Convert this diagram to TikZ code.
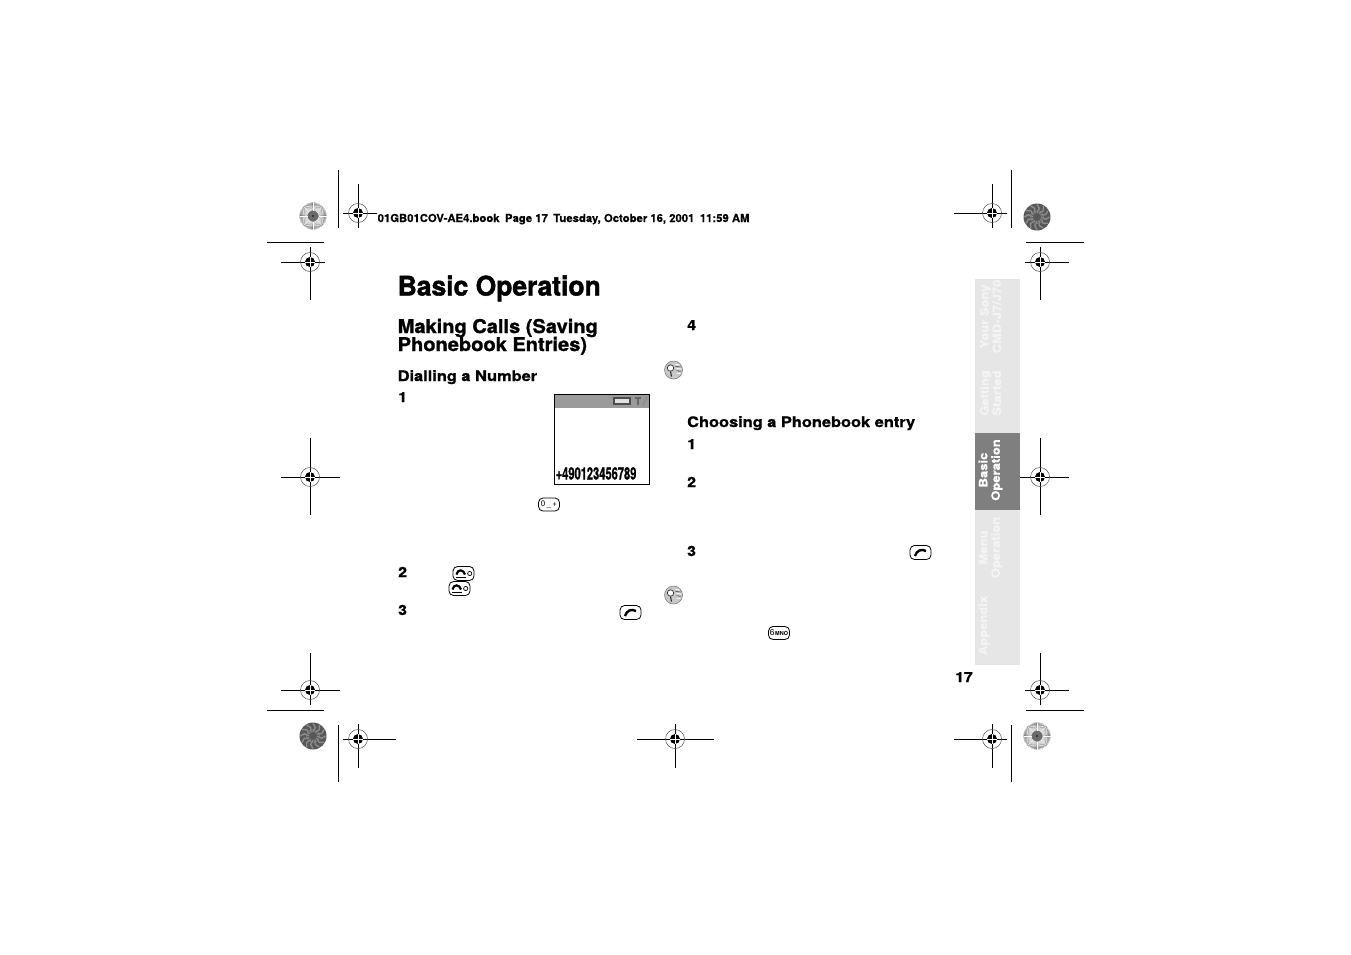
\documentclass[tikz,border=0pt]{standalone}
\usepackage{fontspec}
\setmainfont{TeX Gyre Heros}
\newfontfamily\blkT{TeX Gyre Heros}[BoldFeatures={FakeBold=1.6,FakeStretch=0.98}]
\newfontfamily\blkH{TeX Gyre Heros}[BoldFeatures={FakeBold=1.2,FakeStretch=1.055}]
\newfontfamily\blkS{TeX Gyre Heros}[BoldFeatures={FakeBold=1.0,FakeStretch=1.13}]
\newfontfamily\blkL{TeX Gyre Heros}[BoldFeatures={FakeBold=0.3,FakeStretch=1.028}]
\usetikzlibrary{calc}
\definecolor{tabgrey}{HTML}{E6E6E6}
\definecolor{tabdark}{HTML}{7F7F7F}
\definecolor{tabtext}{HTML}{F4F4F4}
\definecolor{band}{HTML}{9A9A9A}
\tikzset{
  x=1pt,y=-1pt,
  cropline/.style={line width=1pt,black},
  txt/.style={inner sep=0pt,anchor=base west,black},
  headA/.style={txt,font=\fontsize{27}{27}\selectfont\blkT\bfseries},
  headB/.style={txt,font=\fontsize{19}{19}\selectfont\blkH\bfseries},
  headC/.style={txt,font=\fontsize{14.5}{15}\selectfont\blkS\bfseries},
  numlab/.style={txt,font=\fontsize{14}{14}\selectfont\blkS\bfseries},
  tabtxt/.style={inner sep=0pt,rotate=90,align=center,text=tabtext,font=\fontsize{11.5}{12.5}\selectfont\blkS\bfseries},
  keybox/.style={draw=black,line width=0.8pt,rounded corners=4.5pt,fill=white},
}
\newcommand{\regmark}[6]{%
  \draw[cropline] (#1-#3,#2) -- (#1+#4,#2);
  \draw[cropline] (#1,#2-#5) -- (#1,#2+#6);
  \draw[line width=0.5pt,black!70] (#1,#2) circle[radius=9.5];
  \fill[black] (#1,#2) circle[radius=5];
  \draw[white,line width=0.7pt] (#1-5,#2) -- (#1+5,#2) (#1,#2-5) -- (#1,#2+5);
}
\newcommand{\stardisc}[2]{% fine radial disc
  \fill[black!58] (#1,#2) circle[radius=13.5];
  \foreach \a in {0,5,...,359} {\draw[white,line width=0.42pt] ($(#1,#2)+(\a:5.5)$) -- ($(#1,#2)+(\a:13.5)$);}
  \fill[black!85] (#1,#2) circle[radius=1.2];
}
\newcommand{\mottled}[2]{% dark mottled disc
  \fill[black!66] (#1,#2) circle[radius=13.5];
  \foreach \a in {0,30,...,359} {\draw[black!45,line width=1.4pt] ($(#1,#2)+(\a:4)$) -- ($(#1,#2)+(\a+15:9)$) -- ($(#1,#2)+(\a:12.5)$);}
  \draw[black!50,line width=0.7pt] (#1,#2) circle[radius=6.5];
}
\newcommand{\hangkey}[2]{%
  \node[keybox,minimum width=21,minimum height=14,inner sep=0pt] at (#1,#2) {};
  \draw[line width=2.2pt,black] (#1-7,#2+1) .. controls (#1-6,#2-4.5) and (#1,#2-4.5) .. (#1+1.5,#2+1);
  \draw[line width=1pt,black] (#1-7.5,#2+3.8) -- (#1+2,#2+3.8);
  \draw[line width=0.7pt,black] (#1+6.2,#2) circle[radius=2.1];
}
\newcommand{\callkey}[2]{%
  \node[keybox,minimum width=21,minimum height=14,inner sep=0pt] at (#1,#2) {};
  \draw[line width=2.4pt,black] (#1-5.5,#2+3.5) .. controls (#1-4,#2-2) and (#1+1,#2-4) .. (#1+5.5,#2-1.5);
}
\newcommand{\tipicon}[2]{%
  \fill[black!22] (#1,#2) circle[radius=9];
  \draw[black!55,line width=0.5pt] (#1,#2) circle[radius=9];
  \fill[white] (#1-3,#2-2) circle[radius=3.2];
  \draw[black!80,line width=0.7pt] (#1-3,#2-2) circle[radius=3.2];
  \draw[black!85,line width=1pt] (#1-3,#2+1.5) -- (#1-2,#2+6.5);
  \draw[white,line width=0.9pt] (#1+2,#2-5.5) -- (#1+6,#2-5) (#1+3,#2-1.5) -- (#1+8,#2-1) (#1+3,#2+3) -- (#1+7,#2+3.5);
  \draw[black!80,line width=0.6pt] (#1+2,#2-3.5) -- (#1+7,#2-3) (#1+3,#2+0.8) -- (#1+7.5,#2+1.2);
}
\begin{document}
\begin{tikzpicture}
\useasboundingbox (0,0) rectangle (1351,954);
\fill[white] (0,0) rectangle (1351,954);

\draw[cropline] (338,170) -- (338,228);
\draw[cropline] (1011,170) -- (1011,228);
\draw[cropline] (338,725) -- (338,782);
\draw[cropline] (1011,725) -- (1011,782);
\draw[cropline] (267,242) -- (324,242);
\draw[cropline] (1026,242) -- (1084,242);
\draw[cropline] (267,710) -- (324,710);
\draw[cropline] (1026,710) -- (1084,710);

\regmark{358}{213}{15}{19}{29}{15}
\regmark{992}{213}{38}{15}{29}{15}
\regmark{310}{262}{29}{15}{15}{38}
\regmark{1040}{262}{15}{29}{15}{38}
\regmark{310}{477}{29}{30}{39}{38}
\regmark{1040}{477}{29}{29}{39}{38}
\regmark{310}{690}{29}{30}{37}{15}
\regmark{1040}{690}{15}{29}{37}{15}
\regmark{358}{739}{15}{38}{15}{29}
\regmark{675}{739}{38}{39}{15}{29}
\regmark{992}{739}{38}{15}{15}{29}

\stardisc{313}{216}
\mottled{1037}{217}
\mottled{313}{736}
\stardisc{1037}{736}

\node[txt,font=\fontsize{11}{11}\selectfont\blkL\bfseries] (slug) at (377.5,222) {01GB01COV-AE4.book\hspace{5.5pt}Page 17\hspace{5.5pt}Tuesday, October 16, 2001\hspace{5.5pt}11:59 AM};

\node[headA] (title) at (397.5,295.5) {Basic Operation};
\node[headB] (h1a) at (397.5,333) {Making Calls (Saving};
\node[headB] (h1b) at (397.5,351) {Phonebook Entries)};
\node[headC] (h2a) at (397.5,381) {Dialling a Number};
\node[headC] (h2b) at (687,427) {Choosing a Phonebook entry};

\node[numlab] (l1) at (398,402) {1};
\node[numlab] (l2) at (398,577) {2};
\node[numlab] (l3) at (398,615) {3};
\node[numlab] (r4) at (687,330) {4};
\node[numlab] (r1) at (687,449) {1};
\node[numlab] (r2) at (687,487) {2};
\node[numlab] (r3) at (687,556) {3};
\node[numlab] (pg) at (955,682) {17};

\fill[band] (554.5,394) rectangle (649,408);
\draw[line width=1pt,black] (554.5,394) rectangle (649,484);
\draw[line width=1.2pt,black!70,fill=black!12] (614,398) rectangle (630,404);
\draw[line width=1.2pt,black!60] (638,397) -- (638,405) (635,398) -- (641,398);
\draw[line width=1.4pt,black!45] (643,405) -- (647,397);
\node[inner sep=0pt,anchor=base west,black,font=\fontsize{17}{17}\selectfont\blkH\bfseries] (num) at (555.5,479.5)
  {\scalebox{0.62}[1]{+490123456789}};

\node[keybox,minimum width=21,minimum height=13,inner sep=0pt,font=\fontsize{8}{8}\selectfont] (k0) at (549,504.5) {0\,\_\,+};
\hangkey{463.5}{573.5}
\hangkey{459.5}{588.5}
\callkey{630.5}{612.5}
\callkey{920.5}{552.5}
\node[keybox,minimum width=21,minimum height=13,inner sep=0pt] (k6) at (779,633) {\fontsize{8.5}{8.5}\selectfont 6\hspace{0.5pt}\fontsize{5.5}{5.5}\selectfont\bfseries MNO};

\tipicon{673.5}{370}
\tipicon{673.5}{595}

\fill[tabgrey] (975,279) rectangle (1020,665);
\fill[tabdark] (975,433) rectangle (1020,510);
\node[tabtxt] (t1) at (990.5,316.5) {Your Sony\\CMD-J7/J70};
\node[tabtxt] (t2) at (990.5,393) {Getting\\Started};
\node[tabtxt,text=white] (t3) at (990.5,470) {Basic\\Operation};
\node[tabtxt] (t4) at (990.5,547.5) {Menu\\Operation};
\node[tabtxt] (t5) at (984,625.5) {Appendix};
\end{tikzpicture}
\end{document}
